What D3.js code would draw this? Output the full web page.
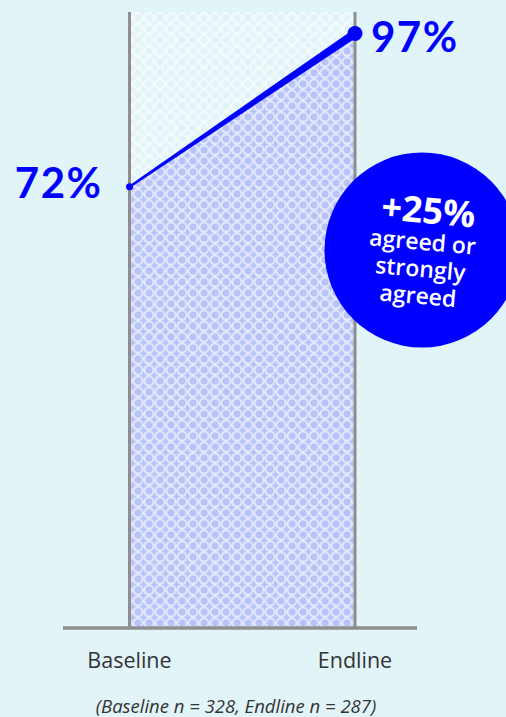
<!DOCTYPE html>
<html>
<head>
<meta charset="utf-8">
<script src="https://cdn.jsdelivr.net/npm/d3@7"></script>
<style>
  html, body { margin: 0; padding: 0; background: #e1f4f8; }
  svg { display: block; }
</style>
</head>
<body>
<svg id="chart" width="506" height="717"></svg>
<script>
// Share who agreed or strongly agreed, at each survey wave
const categories = ["Baseline", "Endline"];
const values = [72, 97];
const sampleSizes = [328, 287];
const changeLabelLines = ["agreed or", "strongly", "agreed"];

const W = 506, H = 717;
const bg = "#e1f4f8";
const blue = "#0000ff";
const fillBlue = "#b8c4f8";
const grey = "#8e8e8e";

const svg = d3.select("#chart");
svg.append("rect").attr("width", W).attr("height", H).attr("fill", bg);

const x = d3.scalePoint().domain(categories).range([129.5, 355]);
const y = d3.scaleLinear().domain([0, 100.5]).range([628, 12]);

// white ring pattern over the band
const defs = svg.append("defs");
const pat = defs.append("pattern")
  .attr("id", "rings")
  .attr("patternUnits", "userSpaceOnUse")
  .attr("x", 132.5).attr("y", 12.5)
  .attr("width", 11).attr("height", 11);
pat.append("circle")
  .attr("cx", 5.5).attr("cy", 5.5).attr("r", 4.6)
  .attr("fill", "none").attr("stroke", "#ffffff").attr("stroke-width", 1.2);

const pts = categories.map((c, i) => [x(c), y(values[i])]);

// filled area under the line
const area = d3.area()
  .x(d => d[0]).y0(y(0)).y1(d => d[1]);
svg.append("path").datum(pts).attr("d", area).attr("fill", fillBlue);

// rings across the whole band
svg.append("rect")
  .attr("x", x(categories[0])).attr("y", y(100.5))
  .attr("width", x(categories[1]) - x(categories[0]))
  .attr("height", y(0) - y(100.5))
  .attr("fill", "url(#rings)");

// vertical guides at each wave
svg.selectAll("line.guide").data(categories).enter().append("line")
  .attr("class", "guide")
  .attr("x1", d => x(d)).attr("x2", d => x(d))
  .attr("y1", y(100.5)).attr("y2", y(0))
  .attr("stroke", grey).attr("stroke-width", 3);

// baseline
svg.append("line")
  .attr("x1", 63).attr("x2", 417)
  .attr("y1", y(0)).attr("y2", y(0))
  .attr("stroke", grey).attr("stroke-width", 3.5);

// tapered connecting line
const [p0, p1] = pts;
const dx = p1[0] - p0[0], dy = p1[1] - p0[1];
const len = Math.hypot(dx, dy);
const nx = -dy / len, ny = dx / len;
const w0 = 1.2, w1 = 4.2;
svg.append("path")
  .attr("d", d3.line()([
    [p0[0] + nx * w0, p0[1] + ny * w0],
    [p1[0] + nx * w1, p1[1] + ny * w1],
    [p1[0] - nx * w1, p1[1] - ny * w1],
    [p0[0] - nx * w0, p0[1] - ny * w0]
  ]) + "Z")
  .attr("fill", blue);

svg.selectAll("circle.dot").data(pts).enter().append("circle")
  .attr("class", "dot")
  .attr("cx", d => d[0]).attr("cy", d => d[1])
  .attr("r", (d, i) => i === 0 ? 3.5 : 7.5)
  .attr("fill", blue);

// value labels
svg.append("text")
  .attr("x", x(categories[0]) - 27).attr("y", y(values[0]) + 11)
  .attr("text-anchor", "end")
  .attr("font-family", "Lato, sans-serif").attr("font-weight", 700)
  .attr("font-size", 42).attr("letter-spacing", 1.5).attr("fill", blue)
  .text(values[0] + "%");
svg.append("text")
  .attr("x", x(categories[1]) + 16).attr("y", y(values[1]) + 19)
  .attr("text-anchor", "start")
  .attr("font-family", "Lato, sans-serif").attr("font-weight", 700)
  .attr("font-size", 42).attr("letter-spacing", 1.5).attr("fill", blue)
  .text(values[1] + "%");

// change badge
const badge = svg.append("g").attr("transform", "translate(422,250)");
badge.append("circle").attr("r", 97.5).attr("fill", blue);
const bt = badge.append("g").attr("transform", "rotate(5)")
  .attr("fill", "#ffffff").attr("text-anchor", "middle")
  .attr("font-family", "'Open Sans', sans-serif");
bt.append("text").attr("x", 3).attr("y", -27)
  .attr("font-size", 36).attr("font-weight", 700)
  .text("+" + (values[1] - values[0]) + "%");
bt.selectAll("text.sub").data(changeLabelLines).enter().append("text")
  .attr("class", "sub")
  .attr("x", 0).attr("y", (d, i) => 0 + i * 27)
  .attr("font-size", 23).attr("font-weight", 600)
  .text(d => d);

// category labels
svg.selectAll("text.cat").data(categories).enter().append("text")
  .attr("class", "cat")
  .attr("x", d => x(d)).attr("y", 668)
  .attr("text-anchor", "middle")
  .attr("font-family", "'Open Sans', sans-serif")
  .attr("font-size", 21.5).attr("fill", "#333333")
  .text(d => d);

// sample sizes
svg.append("text")
  .attr("x", 236).attr("y", 713)
  .attr("text-anchor", "middle")
  .attr("font-family", "'Open Sans', sans-serif")
  .attr("font-style", "italic")
  .attr("font-size", 18.5).attr("fill", "#333333")
  .text(`(${categories[0]} n = ${sampleSizes[0]}, ${categories[1]} n = ${sampleSizes[1]})`);
</script>
</body>
</html>
